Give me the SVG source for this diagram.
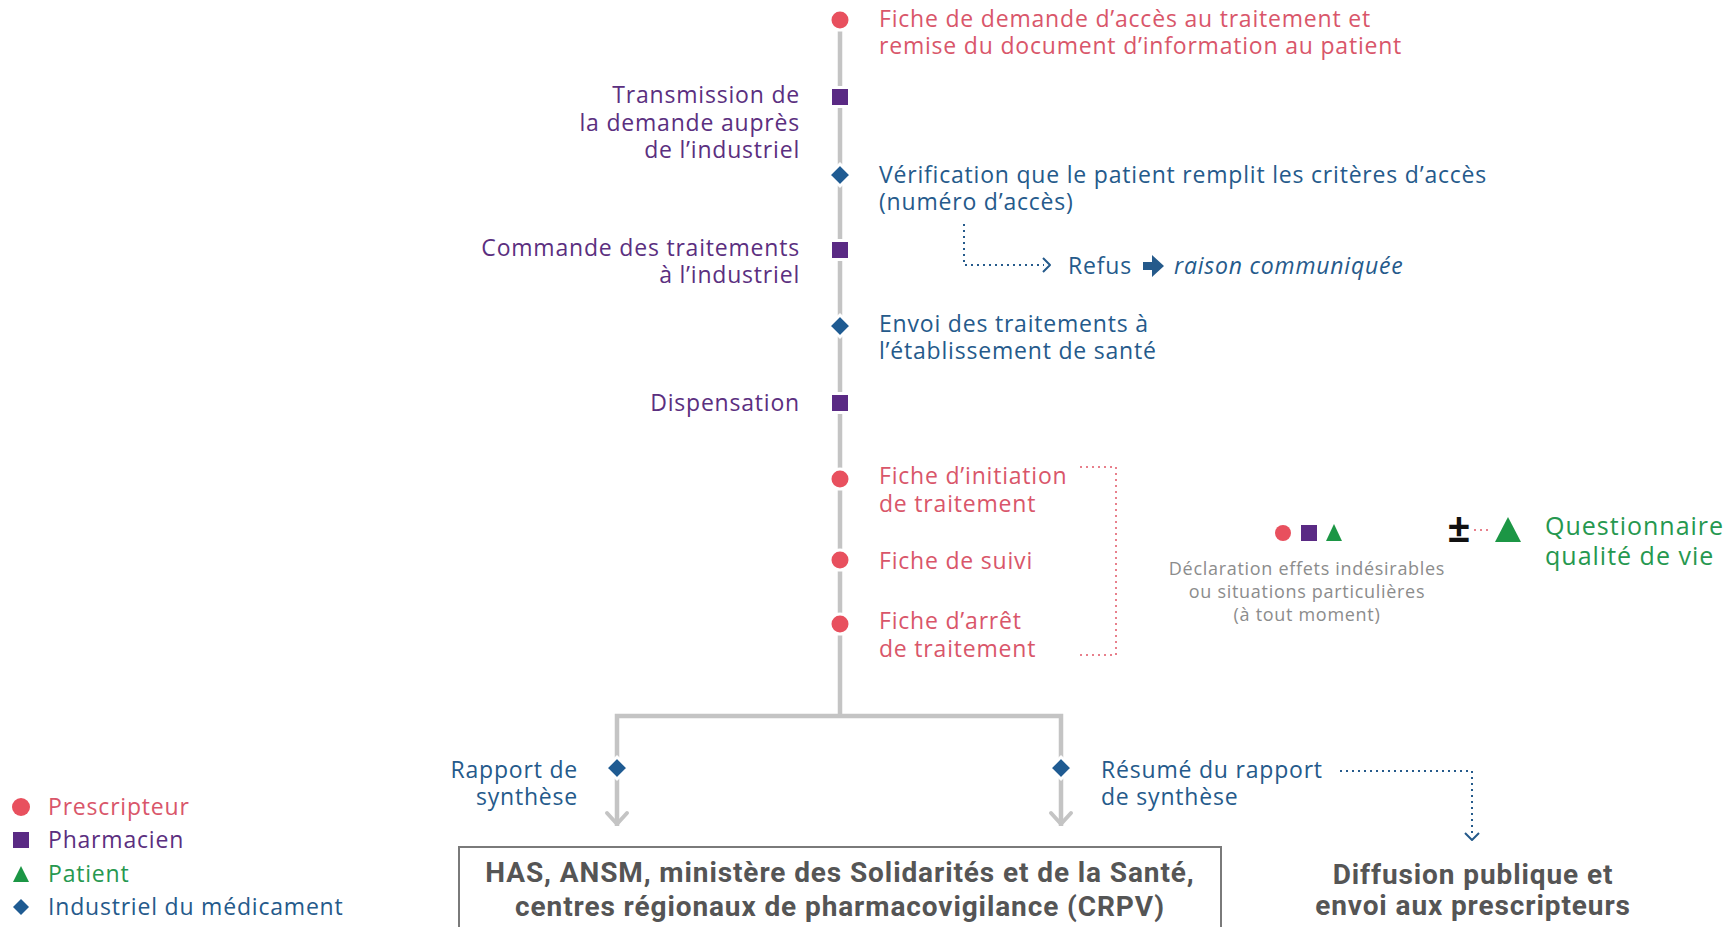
<svg xmlns="http://www.w3.org/2000/svg" width="1733" height="927" viewBox="0 0 1733 927">
  <style>
    text { font-family: "Open Sans", "Noto Sans", sans-serif; font-size: 23px; letter-spacing: 0.8px; }
    .red { fill: #d9566a; }
    .pur { fill: #5b2f80; }
    .blu { fill: #255a8b; }
    .grn { fill: #26984f; }
    .cap { fill: #8c8c8c; font-size: 18px; letter-spacing: 0.7px; }
    .q { font-size: 25px; letter-spacing: 1px; }
    .pm { font-size: 40px; font-weight: 700; letter-spacing: 0; fill: #111111; }
    .big { font-family: "Roboto", "Liberation Sans", sans-serif; font-weight: 700; font-size: 28px; letter-spacing: 0.9px; fill: #555555; }
    .ital { font-style: italic; }
    .end { text-anchor: end; }
    .mid { text-anchor: middle; }
    .dot-red { fill: #e8505e; stroke: #ffffff; stroke-width: 3; }
    .sq-pur { fill: #5a2a84; stroke: #ffffff; stroke-width: 3; }
    .dia-blu { fill: #1f5b92; stroke: #ffffff; stroke-width: 3; }
    .rail { stroke: #c4c4c4; stroke-width: 4.5; fill: none; }
    .chev { stroke: #c4c4c4; stroke-width: 4; fill: none; stroke-linecap: round; stroke-linejoin: round; }
    .dots-blu { stroke: #255a8b; stroke-width: 2; stroke-dasharray: 2 4; fill: none; }
    .dots-red { stroke: #e8808c; stroke-width: 2; stroke-dasharray: 2 4; fill: none; }
    .thin-chev-blu { stroke: #255a8b; stroke-width: 2; fill: none; stroke-linejoin: round; }
  </style>
  <defs>
    <circle id="m-circle" r="10"/>
    <rect id="m-square" x="-9.5" y="-9.5" width="19" height="19"/>
    <path id="m-diamond" d="M0 -11 L11 0 L0 11 L-11 0 Z"/>
  </defs>

  <rect width="1733" height="927" fill="#ffffff"/>

  <!-- connectors -->
  <g id="connectors">
    <path class="rail" d="M840 20 V716"/>
    <path class="rail" d="M617 826 V716 H1061 V826"/>
    <path class="chev" d="M607 813 L617 824 L627 813"/>
    <path class="chev" d="M1051 813 L1061 824 L1071 813"/>
    <!-- refusal branch -->
    <path class="dots-blu" d="M964 224 V265 H1044"/>
    <path class="thin-chev-blu" d="M1043 258 L1050 265 L1043 272"/>
    <!-- follow-up forms bracket -->
    <path class="dots-red" d="M1080 467 H1116 V655 H1080"/>
    <!-- optional questionnaire link -->
    <path class="dots-red" d="M1474 530 H1492"/>
    <!-- public summary branch -->
    <path class="dots-blu" d="M1340 771 H1472 V834"/>
    <path class="thin-chev-blu" d="M1465 833 L1472 840 L1479 833"/>
  </g>

  <g id="n-demande">
    <use href="#m-circle" class="dot-red" x="840" y="20"/>
    <text class="red" x="879" y="27">Fiche de demande d’accès au traitement et</text>
    <text class="red" x="879" y="54">remise du document d’information au patient</text>
  </g>

  <g id="n-transmission">
    <use href="#m-square" class="sq-pur" x="840" y="97"/>
    <text class="pur end" x="800" y="103">Transmission de</text>
    <text class="pur end" x="800" y="131">la demande auprès</text>
    <text class="pur end" x="800" y="158">de l’industriel</text>
  </g>

  <g id="n-verification">
    <use href="#m-diamond" class="dia-blu" x="840" y="175"/>
    <text class="blu" x="879" y="183">Vérification que le patient remplit les critères d’accès</text>
    <text class="blu" x="879" y="210">(numéro d’accès)</text>
  </g>

  <g id="n-refus">
    <text class="blu" x="1068" y="274">Refus</text>
    <path fill="#255a8b" d="M1143 262 H1152 V255 L1164 266 L1152 277 V270 H1143 Z"/>
    <text class="blu ital" x="1174" y="274">raison communiquée</text>
  </g>

  <g id="n-commande">
    <use href="#m-square" class="sq-pur" x="840" y="250"/>
    <text class="pur end" x="800" y="256">Commande des traitements</text>
    <text class="pur end" x="800" y="283">à l’industriel</text>
  </g>

  <g id="n-envoi">
    <use href="#m-diamond" class="dia-blu" x="840" y="326"/>
    <text class="blu" x="879" y="332">Envoi des traitements à</text>
    <text class="blu" x="879" y="359">l’établissement de santé</text>
  </g>

  <g id="n-dispensation">
    <use href="#m-square" class="sq-pur" x="840" y="403"/>
    <text class="pur end" x="800" y="411">Dispensation</text>
  </g>

  <g id="n-initiation">
    <use href="#m-circle" class="dot-red" x="840" y="479"/>
    <text class="red" x="879" y="484">Fiche d’initiation</text>
    <text class="red" x="879" y="512">de traitement</text>
  </g>

  <g id="n-suivi">
    <use href="#m-circle" class="dot-red" x="840" y="560"/>
    <text class="red" x="879" y="569">Fiche de suivi</text>
  </g>

  <g id="n-arret">
    <use href="#m-circle" class="dot-red" x="840" y="624"/>
    <text class="red" x="879" y="629">Fiche d’arrêt</text>
    <text class="red" x="879" y="657">de traitement</text>
  </g>

  <g id="n-declaration">
    <circle cx="1283" cy="533" r="8" fill="#e8505e"/>
    <rect x="1301" y="525" width="16" height="16" fill="#5a2a84"/>
    <path d="M1334 524 L1342 541 L1326 541 Z" fill="#1c9645"/>
    <text class="cap mid" x="1307" y="575">Déclaration effets indésirables</text>
    <text class="cap mid" x="1307" y="598">ou situations particulières</text>
    <text class="cap mid" x="1307" y="621">(à tout moment)</text>
  </g>

  <g id="n-questionnaire">
    <text class="pm mid" x="1459" y="542">±</text>
    <path d="M1508 517 L1521 542 L1495 542 Z" fill="#1c9645"/>
    <text class="grn q" x="1545" y="535">Questionnaire</text>
    <text class="grn q" x="1545" y="565">qualité de vie</text>
  </g>

  <g id="n-rapport">
    <use href="#m-diamond" class="dia-blu" x="617" y="768"/>
    <text class="blu end" x="578" y="778">Rapport de</text>
    <text class="blu end" x="578" y="805">synthèse</text>
  </g>

  <g id="n-resume">
    <use href="#m-diamond" class="dia-blu" x="1061" y="768"/>
    <text class="blu" x="1101" y="778">Résumé du rapport</text>
    <text class="blu" x="1101" y="805">de synthèse</text>
  </g>

  <g id="n-autorites">
    <rect x="459" y="847" width="762" height="100" fill="#ffffff" stroke="#7a7a7a" stroke-width="2"/>
    <text class="big mid" x="840" y="882">HAS, ANSM, ministère des Solidarités et de la Santé,</text>
    <text class="big mid" x="840" y="916">centres régionaux de pharmacovigilance (CRPV)</text>
  </g>

  <g id="n-diffusion">
    <text class="big mid" x="1473" y="884">Diffusion publique et</text>
    <text class="big mid" x="1473" y="915">envoi aux prescripteurs</text>
  </g>

  <g id="legend">
    <circle cx="21" cy="807" r="9" fill="#e8505e"/>
    <text class="red" x="48" y="815">Prescripteur</text>
    <rect x="13" y="832" width="16" height="16" fill="#5a2a84"/>
    <text class="pur" x="48" y="848">Pharmacien</text>
    <path d="M21 866 L29 882 L13 882 Z" fill="#1c9645"/>
    <text class="grn" x="48" y="882">Patient</text>
    <path d="M21 899 L29 907 L21 915 L13 907 Z" fill="#1f5b92"/>
    <text class="blu" x="48" y="915">Industriel du médicament</text>
  </g>
</svg>
